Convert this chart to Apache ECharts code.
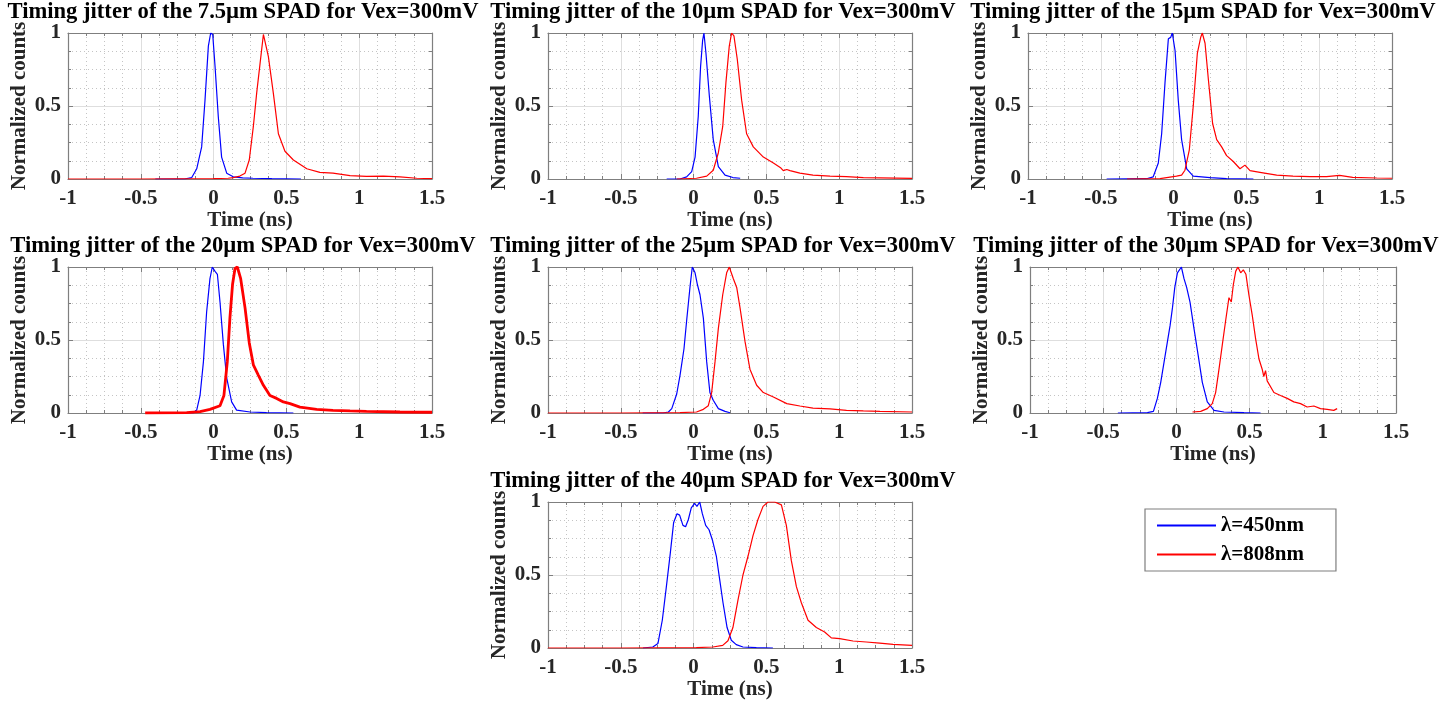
<!DOCTYPE html>
<html><head><meta charset="utf-8">
<script src="https://cdn.jsdelivr.net/npm/echarts@6/dist/echarts.min.js"></script>
<style>html,body{margin:0;padding:0;background:#fff}#c{width:1448px;height:704px}</style>
</head><body><div id="c"></div>
<script>
// ---- data (time in ns, normalized counts) ----
const sizes = ['7.5µm','10µm','15µm','20µm','25µm','30µm','40µm'];
const seriesNames = ['λ=450nm','λ=808nm'];
const xTicks = [-1,-0.5,0,0.5,1,1.5];
const yTicks = [0,0.5,1];

const t75b = [-0.4,-0.2,-0.15,-0.116,-0.082,-0.059,-0.036,-0.02,-0.006,0.01,0.032,0.055,0.09,0.135,0.2,0.27,0.4,0.6];
const v75b = [0,0,0.01,0.07,0.22,0.54,0.91,1.0,0.99,0.77,0.43,0.15,0.04,0.015,0.008,0.005,0.002,0];
const t75r = [-1,-0.5,0,0.1,0.135,0.18,0.216,0.245,0.273,0.296,0.319,0.342,0.353,0.376,0.41,0.445,0.49,0.548,0.64,0.73,0.82,0.937,1.05,1.166,1.28,1.395,1.5];
const v75r = [0,0,0.002,0.005,0.01,0.02,0.04,0.13,0.36,0.59,0.79,0.99,1.0,0.84,0.59,0.31,0.19,0.13,0.07,0.045,0.04,0.023,0.018,0.02,0.015,0.005,0.003];

const t10b = [-0.185,-0.093,-0.048,-0.013,0.01,0.032,0.048,0.062,0.071,0.085,0.108,0.135,0.17,0.216,0.27,0.32];
const v10b = [0,0,0.015,0.05,0.15,0.43,0.77,0.95,1.0,0.86,0.57,0.27,0.085,0.027,0.01,0.005];
const t10r = [-0.116,0.02,0.09,0.135,0.17,0.2,0.222,0.245,0.261,0.277,0.3,0.33,0.364,0.41,0.479,0.548,0.6,0.616,0.64,0.662,0.73,0.82,0.937,1.05,1.166,1.28,1.5];
const v10r = [0,0.005,0.02,0.06,0.18,0.36,0.66,0.91,1.0,0.98,0.82,0.54,0.31,0.22,0.15,0.11,0.075,0.057,0.065,0.057,0.04,0.027,0.02,0.016,0.01,0.008,0.004];

const t15b = [-0.46,-0.185,-0.14,-0.105,-0.082,-0.059,-0.036,-0.02,-0.009,0.01,0.032,0.055,0.09,0.135,0.25,0.364,0.548];
const v15b = [0,0.002,0.015,0.11,0.31,0.66,0.96,0.97,1.0,0.88,0.54,0.27,0.07,0.02,0.01,0.003,0];
const t15r = [-0.32,-0.093,0.02,0.055,0.078,0.108,0.135,0.163,0.186,0.197,0.216,0.239,0.268,0.296,0.33,0.364,0.41,0.456,0.49,0.525,0.593,0.708,0.82,0.937,1.05,1.14,1.23,1.395,1.5];
const v15r = [0,0.003,0.02,0.027,0.06,0.2,0.5,0.86,0.97,1.0,0.93,0.68,0.38,0.27,0.22,0.16,0.12,0.07,0.095,0.057,0.046,0.027,0.02,0.016,0.016,0.025,0.011,0.007,0.005];

const t20b = [-0.45,-0.14,-0.116,-0.093,-0.07,-0.048,-0.025,-0.009,0.01,0.026,0.044,0.067,0.09,0.124,0.158,0.25,0.364,0.548];
const v20b = [0,0,0.02,0.12,0.35,0.69,0.92,1.0,0.97,0.95,0.76,0.47,0.24,0.076,0.02,0.007,0.003,0];
const t20r = [-0.47,-0.185,-0.093,-0.025,0.044,0.071,0.094,0.112,0.13,0.147,0.163,0.186,0.216,0.245,0.273,0.307,0.342,0.387,0.433,0.479,0.525,0.593,0.708,0.82,0.937,1.05,1.28,1.5];
const v20r = [0,0.003,0.01,0.025,0.05,0.12,0.35,0.65,0.88,0.99,1.0,0.92,0.72,0.48,0.33,0.26,0.19,0.12,0.1,0.076,0.064,0.04,0.025,0.018,0.014,0.011,0.007,0.005];

const t25b = [-0.35,-0.21,-0.173,-0.15,-0.116,-0.093,-0.066,-0.048,-0.025,-0.009,0.01,0.026,0.044,0.067,0.09,0.112,0.135,0.17,0.216,0.25];
const v25b = [0,0,0.007,0.03,0.13,0.26,0.44,0.63,0.86,1.0,0.96,0.88,0.81,0.65,0.35,0.14,0.087,0.03,0.011,0.002];
const t25r = [-1,-0.5,-0.093,0.02,0.067,0.101,0.124,0.147,0.17,0.2,0.227,0.245,0.273,0.296,0.319,0.353,0.387,0.433,0.479,0.548,0.64,0.73,0.82,0.937,1.05,1.166,1.28,1.5];
const v25r = [0,0,0.002,0.007,0.025,0.05,0.14,0.35,0.58,0.81,0.96,1.0,0.92,0.86,0.72,0.49,0.3,0.19,0.14,0.11,0.064,0.048,0.034,0.028,0.018,0.014,0.011,0.007];

const t30b = [-0.4,-0.198,-0.157,-0.13,-0.107,-0.084,-0.061,-0.043,-0.027,-0.011,0.007,0.02,0.034,0.052,0.07,0.093,0.12,0.148,0.177,0.211,0.257,0.325,0.461,0.575];
const v30b = [0,0.003,0.011,0.1,0.21,0.35,0.49,0.6,0.72,0.86,0.96,0.95,1.0,0.92,0.86,0.76,0.58,0.4,0.21,0.076,0.018,0.007,0.002,0];
const t30r = [0.11,0.166,0.211,0.245,0.268,0.291,0.314,0.336,0.359,0.375,0.389,0.405,0.42,0.439,0.457,0.475,0.495,0.518,0.541,0.564,0.586,0.597,0.609,0.62,0.632,0.666,0.711,0.757,0.802,0.848,0.893,0.939,0.984,1.03,1.075,1.098];
const v30r = [0.007,0.011,0.03,0.064,0.14,0.3,0.47,0.63,0.79,0.76,0.88,0.97,1.0,0.96,0.98,0.95,0.81,0.67,0.51,0.37,0.3,0.25,0.29,0.22,0.21,0.14,0.12,0.1,0.076,0.064,0.041,0.048,0.03,0.025,0.018,0.03];

const t40b = [-0.348,-0.28,-0.245,-0.215,-0.187,-0.16,-0.137,-0.114,-0.096,-0.073,-0.055,-0.036,-0.016,0.007,0.023,0.042,0.06,0.083,0.106,0.129,0.156,0.179,0.202,0.23,0.259,0.293,0.339,0.431,0.545];
const v40b = [0,0.007,0.03,0.19,0.42,0.65,0.86,0.92,0.91,0.84,0.83,0.88,0.96,0.99,0.97,1.0,0.92,0.84,0.81,0.74,0.63,0.47,0.31,0.14,0.053,0.023,0.007,0.002,0];
const t40r = [-1,-0.5,0.019,0.133,0.2,0.236,0.27,0.305,0.339,0.374,0.408,0.442,0.477,0.511,0.557,0.603,0.637,0.671,0.706,0.74,0.786,0.843,0.9,0.946,1.003,1.095,1.186,1.278,1.37,1.5];
const v40r = [0,0,0.002,0.007,0.018,0.05,0.14,0.33,0.5,0.63,0.77,0.88,0.97,1.0,1.0,0.98,0.84,0.6,0.42,0.31,0.19,0.14,0.11,0.069,0.064,0.048,0.041,0.034,0.025,0.018];

const blueT = [t75b,t10b,t15b,t20b,t25b,t30b,t40b];
const blueV = [v75b,v10b,v15b,v20b,v25b,v30b,v40b];
const redT  = [t75r,t10r,t15r,t20r,t25r,t30r,t40r];
const redV  = [v75r,v10r,v15r,v20r,v25r,v30r,v40r];

// ---- layout ----
const boxes = [
  [68,33,364,146],[548,33,364,146],[1028,33,364,146],
  [68,267,364,146],[548,267,364,146],[1030,267,366,146],
  [548,502,364,146]
];
const FONT = 'Liberation Serif';
const AX = '#7f7f7f';
const TXT = '#262626';
const redWidth = [1.2,1.2,1.2,2.8,1.2,1.2,1.2];

const zip = (t,v) => t.map((x,i)=>[x,v[i]]);
const grid=[], xAxis=[], yAxis=[], series=[], title=[];
boxes.forEach((b,i)=>{
  grid.push({left:b[0],top:b[1],width:b[2],height:b[3],containLabel:false});
  const common = {
    gridIndex:i, type:'value',
    axisLine:{show:true,onZero:false,lineStyle:{color:AX,width:1.2}},
    axisTick:{show:true,inside:true,length:5,lineStyle:{color:AX}},
    minorTick:{show:true,splitNumber:4,length:3,lineStyle:{color:AX}},
  };
  xAxis.push(Object.assign({}, common, {
    position:'bottom', min:xTicks[0], max:xTicks[xTicks.length-1], interval:0.5,
    axisLabel:{show:true,margin:9,fontFamily:FONT,fontWeight:'bold',fontSize:21,color:TXT},
    splitLine:{show:true,lineStyle:{color:'#dedede',width:1}},
    minorSplitLine:{show:true,lineStyle:{color:'#c4c4c4',width:1,type:[1,3]}},
    name:'Time (ns)', nameLocation:'middle', nameGap:30,
    nameTextStyle:{fontFamily:FONT,fontWeight:'bold',fontSize:21,color:TXT}
  }));
  xAxis.push(Object.assign({}, common, {
    position:'top', min:xTicks[0], max:xTicks[xTicks.length-1], interval:0.5,
    axisLabel:{show:false}, splitLine:{show:false}
  }));
  yAxis.push(Object.assign({}, common, {
    position:'left', min:yTicks[0], max:yTicks[yTicks.length-1], interval:0.5,
    axisLabel:{show:true,margin:7,fontFamily:FONT,fontWeight:'bold',fontSize:21,color:TXT},
    splitLine:{show:true,lineStyle:{color:'#dedede',width:1}},
    minorSplitLine:{show:true,lineStyle:{color:'#c4c4c4',width:1,type:[1,3]}},
    name:'Normalized counts', nameLocation:'middle', nameGap:38, nameRotate:90,
    nameTextStyle:{fontFamily:FONT,fontWeight:'bold',fontSize:21,color:TXT}
  }));
  yAxis.push(Object.assign({}, common, {
    position:'right', min:yTicks[0], max:yTicks[yTicks.length-1], interval:0.5,
    axisLabel:{show:false}, splitLine:{show:false}
  }));
  series.push({type:'line', name:seriesNames[0], xAxisIndex:2*i, yAxisIndex:2*i,
    data:zip(blueT[i],blueV[i]), symbol:'none', color:'#0000ff',
    lineStyle:{color:'#0000ff',width:1.2}, animation:false, silent:true});
  series.push({type:'line', name:seriesNames[1], xAxisIndex:2*i, yAxisIndex:2*i,
    data:zip(redT[i],redV[i]), symbol:'none', color:'#ff0000',
    lineStyle:{color:'#ff0000',width:redWidth[i]}, animation:false, silent:true});
  title.push({text:'Timing jitter of the '+sizes[i]+' SPAD for Vex=300mV',
    left:b[0]+b[2]/2-7, top:b[1]-32, textAlign:'center', padding:0,
    textStyle:{fontFamily:FONT,fontWeight:'bold',fontSize:22.6,color:'#000'}});
});

const chart = echarts.init(document.getElementById('c'), null, {renderer:'canvas'});
chart.setOption({
  animation:false,
  backgroundColor:'#ffffff',
  title, grid, xAxis, yAxis, series,
  legend:{
    data:seriesNames, orient:'vertical', left:1145, top:509,
    padding:[6,32,6,12], itemGap:8, itemWidth:59, itemHeight:2, icon:'rect',
    borderColor:'#7f7f7f', borderWidth:1.2, backgroundColor:'#fff',
    textStyle:{fontFamily:FONT,fontWeight:'bold',fontSize:21,color:'#000'},
    selectedMode:false
  }
});
</script></body></html>
